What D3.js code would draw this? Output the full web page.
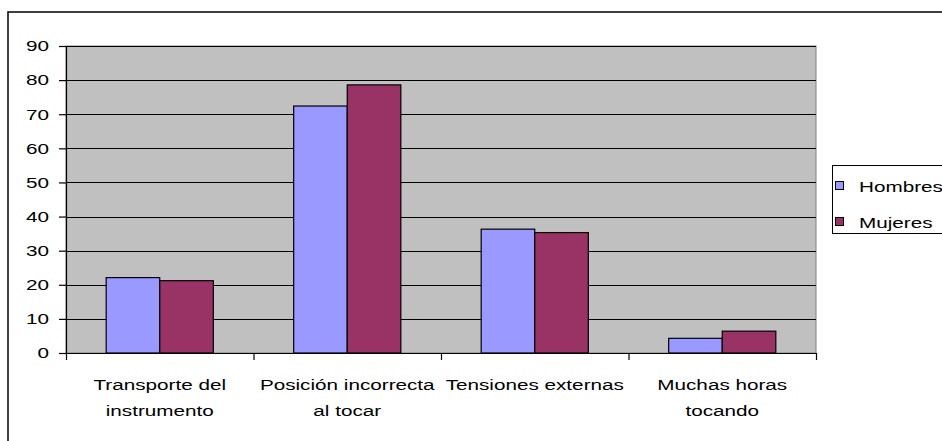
<!DOCTYPE html>
<html>
<head>
<meta charset="utf-8">
<script src="https://cdn.jsdelivr.net/npm/d3@7"></script>
<style>
  html, body { margin: 0; padding: 0; background: #fff; }
  svg { display: block; }
  text { font-family: Arial, "Liberation Sans", sans-serif; fill: #000; }
</style>
</head>
<body>
<svg id="chart" width="942" height="441"></svg>
<script>
const categories = ["Transporte del instrumento", "Posición incorrecta al tocar", "Tensiones externas", "Muchas horas tocando"];
const categoryLines = [["Transporte del", "instrumento"], ["Posición incorrecta", "al tocar"], ["Tensiones externas"], ["Muchas horas", "tocando"]];
const seriesNames = ["Hombres", "Mujeres"];
const hombres = [22.1, 72.4, 36.3, 4.3];
const mujeres = [21.2, 78.6, 35.3, 6.4];
const yTicks = [0, 10, 20, 30, 40, 50, 60, 70, 80, 90];

const colors = { "Hombres": "#9999FF", "Mujeres": "#993366" };
const SX = 1.38, FS = 15;

const svg = d3.select("#chart");
const plot = { left: 66, right: 816, top: 46, bottom: 353 };

// chart border
svg.append("rect").attr("x", 8).attr("y", 12).attr("width", 960).attr("height", 460)
  .attr("fill", "#fff").attr("stroke", "#000").attr("stroke-width", 1.5);

const x = d3.scaleBand().domain(categories).range([plot.left, plot.right]).paddingInner(0).paddingOuter(0);
const xs = d3.scaleBand().domain(seriesNames).range([0, x.bandwidth()]).paddingInner(0).paddingOuter(0.75);
const y = d3.scaleLinear().domain([0, 90]).range([plot.bottom, plot.top]);

// plot background
svg.append("rect").attr("x", plot.left).attr("y", plot.top)
  .attr("width", plot.right - plot.left).attr("height", plot.bottom - plot.top)
  .attr("fill", "#C0C0C0").attr("stroke", "#808080").attr("stroke-width", 1);

// gridlines
svg.append("g").selectAll("line").data(yTicks.filter(d => d > 0)).join("line")
  .attr("x1", plot.left).attr("x2", plot.right)
  .attr("y1", d => Math.round(y(d)) + 0.5).attr("y2", d => Math.round(y(d)) + 0.5)
  .attr("stroke", "#000").attr("stroke-width", 1.2);

// bars
const rows = categories.map((c, i) => ({ cat: c, values: [{ s: "Hombres", v: hombres[i] }, { s: "Mujeres", v: mujeres[i] }] }));
const groups = svg.append("g").selectAll("g").data(rows).join("g")
  .attr("transform", d => `translate(${x(d.cat)},0)`);
groups.selectAll("rect").data(d => d.values).join("rect")
  .attr("x", d => xs(d.s)).attr("width", xs.bandwidth())
  .attr("y", d => y(d.v)).attr("height", d => y(0) - y(d.v))
  .attr("fill", d => colors[d.s]).attr("stroke", "#000").attr("stroke-width", 1.2);

// y axis
const yAxis = svg.append("g").attr("transform", `translate(${plot.left},0)`)
  .call(d3.axisLeft(y).tickValues(yTicks).tickSize(7).tickSizeOuter(0).tickFormat(d3.format("d")));
yAxis.select(".domain").attr("stroke", "#000").attr("stroke-width", 1.2);
yAxis.selectAll(".tick line").attr("stroke", "#000").attr("stroke-width", 1.2);
yAxis.selectAll(".tick text").attr("x", null).attr("font-size", FS)
  .attr("transform", `translate(-17,0) scale(${SX},1)`);

// x axis
const xb = d3.scaleLinear().domain([0, categories.length]).range([plot.left, plot.right]);
const xAxis = svg.append("g").attr("transform", `translate(0,${plot.bottom})`)
  .call(d3.axisBottom(xb).ticks(categories.length).tickSize(7).tickSizeOuter(0).tickFormat(""));
xAxis.select(".domain").attr("stroke", "#000").attr("stroke-width", 1.2);
xAxis.selectAll(".tick line").attr("stroke", "#000").attr("stroke-width", 1.2);

// category labels
const lab = svg.append("g").selectAll("g").data(categories).join("g")
  .attr("transform", d => `translate(${x(d) + x.bandwidth() / 2},0)`);
lab.each(function(d, i) {
  const g = d3.select(this);
  categoryLines[i].forEach((ln, j) => {
    g.append("text").attr("text-anchor", "middle").attr("font-size", FS)
      .attr("transform", `translate(0,${390 + j * 26}) scale(${SX},1)`).text(ln);
  });
});

// legend
const leg = svg.append("g");
leg.append("rect").attr("x", 832.5).attr("y", 165.5).attr("width", 140).attr("height", 68)
  .attr("fill", "#fff").attr("stroke", "#000").attr("stroke-width", 1);
seriesNames.forEach((s, i) => {
  const cy = 185.5 + i * 36;
  leg.append("rect").attr("x", 835.5).attr("y", cy - 4).attr("width", 8).attr("height", 8)
    .attr("fill", colors[s]).attr("stroke", "#000").attr("stroke-width", 1);
  leg.append("text").attr("font-size", FS)
    .attr("transform", `translate(859,${cy + 6}) scale(${SX},1)`).text(s);
});
</script>
</body>
</html>
